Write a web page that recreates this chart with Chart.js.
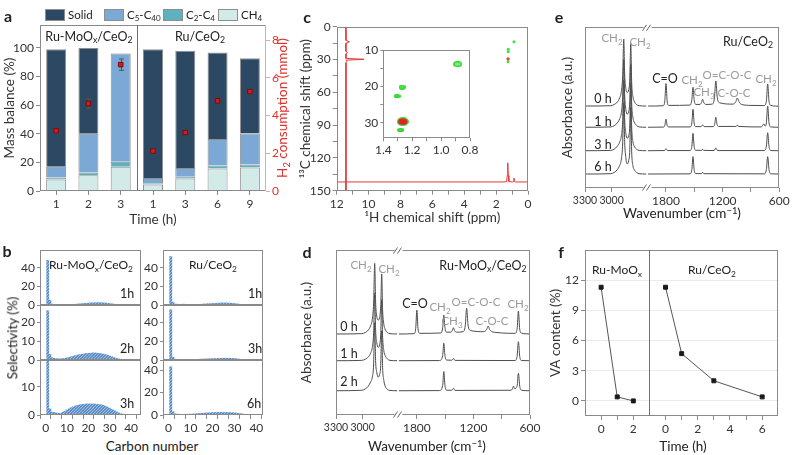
<!DOCTYPE html>
<html>
<head>
<meta charset="utf-8">
<title>Figure</title>
<script src="https://cdn.jsdelivr.net/npm/chart.js@4.4.1/dist/chart.umd.min.js"></script>
<style>
  body { margin: 0; background: #fff; }
  #fig { position: relative; width: 799px; height: 455px; overflow: hidden; background: #fff;
         font-family: Lato, "DejaVu Sans", sans-serif; color: #222; }
  #fig canvas { position: absolute; }
  .t { position: absolute; white-space: nowrap; transform: translate(-50%, -50%); font-size: 12.5px; line-height: 1; }
  .t sub, .lg sub { font-size: 0.7em; vertical-align: -0.3em; line-height: 0; }
  .t sup { font-size: 0.7em; vertical-align: 0.5em; line-height: 0; }
  .panel { font-weight: bold; font-size: 16px; }
  .rot { transform: translate(-50%, -50%) rotate(-90deg); }
  .grey { color: #9b9b9b; }
  .ttl { font-size: 13.5px; }
  .lg { position: absolute; top: 8px; height: 13px; display: flex; align-items: center; font-size: 11.5px; white-space: nowrap; }
  .lg i { display: inline-block; width: 18px; height: 10px; border: 1px solid #8e8e8e; margin-right: 3px; }
</style>
</head>
<body>
<div id="fig"></div>
<script>
// ---------- data ----------
// a: mass balance (%) and H2 consumption (mmol)
const timeLabels = ['1', '2', '3', '1', '3', '6', '9'];
const massCH4 = [8, 11, 17, 4.5, 8.8, 15.8, 16.5];
const massC2C4 = [1.5, 2, 3.5, 1, 1.2, 2, 2];
const massC5C40 = [7.5, 27, 75.5, 3.5, 6, 18.5, 21.7];
const massSolid = [82, 60, 0.3, 90, 82, 60.5, 52.5];
const h2Use = [3.19, 4.64, 6.70, 2.12, 3.10, 4.78, 5.27];
const h2Err = [0.1, 0.25, 0.3, 0.08, 0.08, 0.08, 0.08];
const massTicks = [0, 20, 40, 60, 80, 100];
const h2Ticks = [0, 2, 4, 6, 8];

// b: selectivity (%) by carbon number
const carbonNo = [1, 2, 3, 4, 5, 6, 7, 8, 9, 10, 11, 12, 13, 14, 15, 16, 17, 18, 19, 20,
  21, 22, 23, 24, 25, 26, 27, 28, 29, 30, 31, 32, 33, 34, 35, 36, 37, 38, 39, 40];
const carbonTicks = [0, 5, 10, 15, 20, 25, 30, 35, 40];
const selMo1h = [48, 5, 1.0, 0.6, 0.4, 0.4, 0.3, 0.3, 0.4, 0.4, 0.5, 0.6, 0.7, 0.8, 1.0, 1.2, 1.4, 1.6, 1.8, 2.0,
  2.2, 2.3, 2.4, 2.5, 2.5, 2.4, 2.3, 2.1, 1.8, 1.5, 1.2, 0.9, 0.6, 0.4, 0.3, 0.2, 0.1, 0.1, 0, 0];
const selMo2h = [26, 3.0, 1.2, 0.9, 0.7, 0.6, 0.6, 0.7, 0.9, 1.1, 1.4, 1.7, 2.0, 2.3, 2.6, 2.8, 3.0, 3.2, 3.4, 3.5,
  3.6, 3.7, 3.7, 3.6, 3.5, 3.3, 3.1, 2.8, 2.5, 2.1, 1.7, 1.3, 0.9, 0.6, 0.4, 0.2, 0.1, 0, 0, 0];
const selMo3h = [19.3, 2.2, 1.0, 0.9, 0.7, 0.6, 0.6, 0.9, 1.3, 1.8, 2.2, 2.6, 2.9, 3.2, 3.4, 3.6, 3.7, 3.8, 3.9, 3.9,
  3.9, 3.9, 3.9, 3.8, 3.7, 3.6, 3.4, 3.1, 2.8, 2.4, 2.0, 1.6, 1.2, 0.8, 0.5, 0.3, 0.15, 0.05, 0, 0];
const selRu1h = [52, 3, 1.0, 0.8, 0.7, 0.8, 0.9, 0.7, 0.5, 0.4, 0.4, 0.5, 0.6, 0.7, 0.8, 1.0, 1.1, 1.3, 1.4, 1.6,
  1.7, 1.9, 2.0, 2.1, 2.2, 2.2, 2.1, 2.0, 1.8, 1.5, 1.2, 0.9, 0.6, 0.4, 0.2, 0.1, 0, 0, 0, 0];
const selRu3h = [53, 3, 0.9, 0.7, 0.6, 0.6, 0.6, 0.5, 0.5, 0.5, 0.5, 0.6, 0.7, 0.8, 0.9, 1.0, 1.1, 1.2, 1.3, 1.4,
  1.5, 1.6, 1.7, 1.8, 1.9, 1.9, 1.9, 1.8, 1.7, 1.5, 1.3, 1.0, 0.7, 0.5, 0.3, 0.2, 0.1, 0, 0, 0];
const selRu6h = [43, 3, 1.0, 0.8, 0.6, 0.5, 0.5, 0.6, 0.7, 0.8, 0.9, 1.0, 1.2, 1.3, 1.5, 1.6, 1.8, 1.9, 2.0, 2.1,
  2.2, 2.2, 2.3, 2.3, 2.3, 2.3, 2.2, 2.2, 2.1, 1.9, 1.7, 1.4, 1.1, 0.8, 0.5, 0.3, 0.2, 0.1, 0, 0];

// c: 1H / 13C projections and HSQC cross peaks (ppm)
const hSpecX = [12, 1.5, 1.34, 1.3, 1.27, 1.24, 1.2, 0.95, 0.91, 0.88, 0.85, 0.8, 0];
const hSpecY = [142, 142, 141.6, 136, 124.5, 136, 141.6, 142, 141.5, 138.5, 141.5, 142, 142];
const cSpecX = [11.42, 11.42, 11.2, 11.42, 11.42, 11.32, 11.42, 11.42, 10.28, 11.42, 11.36, 11.42, 11.42];
const cSpecY = [0, 12.5, 13.8, 15.2, 22.5, 23.6, 24.8, 29.0, 29.8, 30.6, 32, 33, 150];
const hsqcGreenH = [0.88, 1.24, 1.24, 1.25];
const hsqcGreenC = [13.7, 20.6, 22.8, 32.0];
const hsqcRedH = [1.25];
const hsqcRedC = [29.5];
const insetGreenH = [0.886, 1.27, 1.305, 1.28];
const insetGreenC = [13.9, 20.2, 22.7, 32.0];
const insetRedH = [1.265];
const insetRedC = [29.7];

// d: FTIR Ru-MoOx/CeO2, [wavenumber, absorbance]
const irMo0hL = [[3300, 4.91], [3010, 4.93], [2970, 5.0], [2935, 5.15], [2910, 5.4], [2890, 5.8], [2875, 6.8], [2863, 9.19], [2853, 6.9], [2840, 6.0],
  [2825, 5.75], [2808, 5.9], [2795, 6.6], [2784, 8.55], [2774, 6.4], [2760, 5.5], [2745, 5.2], [2720, 5.0], [2690, 4.93], [2610, 4.91]];
const irMo0hR = [[1990, 4.91], [1830, 4.93], [1812, 5.25], [1800, 6.36], [1788, 5.25], [1770, 4.95], [1545, 4.97], [1526, 5.3], [1514, 6.06], [1502, 5.3],
  [1485, 5.02], [1440, 5.02], [1424, 5.12], [1412, 5.29], [1400, 5.12], [1380, 5.02], [1310, 5.05], [1287, 5.4], [1272, 6.47], [1257, 5.45],
  [1230, 5.12], [1090, 5.05], [1060, 5.18], [1044, 5.39], [1028, 5.18], [1000, 5.04], [950, 5.0], [900, 4.97], [760, 4.95], [737, 5.2],
  [723, 6.3], [709, 5.2], [690, 4.96], [640, 4.92], [600, 4.91]];
const irMo1hL = [[3300, 3.29], [3010, 3.31], [2970, 3.38], [2935, 3.52], [2910, 3.75], [2890, 4.1], [2875, 5.0], [2863, 7.4], [2853, 5.2], [2840, 4.4],
  [2825, 4.1], [2808, 4.25], [2795, 4.9], [2784, 7.0], [2774, 4.8], [2760, 3.9], [2745, 3.6], [2720, 3.4], [2690, 3.31], [2610, 3.29]];
const irMo1hR = [[1990, 3.29], [1560, 3.3], [1526, 3.6], [1514, 4.35], [1502, 3.6], [1485, 3.33], [1430, 3.32], [1412, 3.42], [1395, 3.31],
  [760, 3.3], [737, 3.55], [723, 4.44], [709, 3.55], [690, 3.3], [600, 3.29]];
const irMo2hL = [[3300, 1.47], [3010, 1.5], [2970, 1.58], [2935, 1.75], [2910, 2.0], [2890, 2.3], [2875, 3.1], [2863, 5.6], [2853, 3.3], [2840, 2.6],
  [2825, 2.3], [2808, 2.45], [2795, 3.0], [2784, 5.1], [2774, 2.9], [2760, 2.1], [2745, 1.75], [2720, 1.55], [2690, 1.49], [2610, 1.47]];
const irMo2hR = [[1990, 1.47], [1560, 1.48], [1526, 1.8], [1514, 2.63], [1502, 1.8], [1485, 1.5], [1430, 1.5], [1412, 1.62], [1395, 1.49],
  [800, 1.5], [785, 1.6], [775, 1.75], [765, 1.6], [737, 1.75], [723, 2.53], [709, 1.75], [690, 1.5], [600, 1.47]];

// e: FTIR Ru/CeO2
const irRu0hL = [[3300, 5.1], [3010, 5.12], [2970, 5.2], [2935, 5.35], [2910, 5.6], [2890, 6.0], [2875, 7.0], [2863, 9.27], [2853, 7.1], [2840, 6.2],
  [2825, 5.95], [2808, 6.1], [2795, 6.8], [2784, 9.0], [2774, 6.6], [2760, 5.7], [2745, 5.4], [2720, 5.2], [2690, 5.12], [2610, 5.1]];
const irRu0hR = [[1990, 5.1], [1830, 5.12], [1812, 5.45], [1800, 6.5], [1788, 5.45], [1770, 5.14], [1545, 5.16], [1526, 5.5], [1514, 6.27], [1502, 5.5],
  [1485, 5.2], [1440, 5.2], [1424, 5.32], [1412, 5.52], [1400, 5.32], [1380, 5.2], [1310, 5.22], [1287, 5.6], [1272, 6.66], [1257, 5.62],
  [1230, 5.3], [1090, 5.22], [1060, 5.38], [1044, 5.6], [1028, 5.38], [1000, 5.2], [900, 5.14], [760, 5.13], [737, 5.4], [723, 6.47],
  [709, 5.4], [690, 5.14], [640, 5.1], [600, 5.08]];
const irRu1hL = [[3300, 3.78], [3010, 3.8], [2970, 3.88], [2935, 4.05], [2910, 4.3], [2890, 4.7], [2875, 5.7], [2863, 8.0], [2853, 5.8], [2840, 4.9],
  [2825, 4.6], [2808, 4.75], [2795, 5.4], [2784, 7.7], [2774, 5.3], [2760, 4.4], [2745, 4.1], [2720, 3.9], [2690, 3.8], [2610, 3.78]];
const irRu1hR = [[1990, 3.78], [1830, 3.79], [1812, 3.9], [1800, 4.29], [1788, 3.9], [1770, 3.8], [1545, 3.8], [1526, 4.05], [1514, 4.9], [1502, 4.05],
  [1485, 3.82], [1430, 3.82], [1412, 3.92], [1395, 3.82], [1300, 3.82], [1285, 3.95], [1272, 4.4], [1259, 3.95], [1240, 3.83], [1060, 3.83],
  [1044, 3.9], [1028, 3.83], [790, 3.8], [775, 3.9], [765, 3.99], [750, 3.85], [737, 4.05], [723, 5.1], [709, 4.05], [690, 3.8], [600, 3.78]];
const irRu3hL = [[3300, 2.32], [3010, 2.34], [2970, 2.42], [2935, 2.6], [2910, 2.85], [2890, 3.25], [2875, 4.2], [2863, 6.7], [2853, 4.3], [2840, 3.4],
  [2825, 3.1], [2808, 3.25], [2795, 3.9], [2784, 6.5], [2774, 3.8], [2760, 2.9], [2745, 2.6], [2720, 2.42], [2690, 2.34], [2610, 2.32]];
const irRu3hR = [[1990, 2.32], [1815, 2.33], [1800, 2.45], [1785, 2.33], [1545, 2.33], [1526, 2.6], [1514, 3.4], [1502, 2.6], [1485, 2.35],
  [1425, 2.34], [1412, 2.4], [1399, 2.34], [1290, 2.33], [1272, 2.49], [1254, 2.33], [760, 2.33], [737, 2.6], [723, 3.44], [709, 2.6],
  [690, 2.33], [600, 2.32]];
const irRu6hL = [[3300, 0.87], [3010, 0.89], [2970, 0.97], [2935, 1.15], [2910, 1.4], [2890, 1.8], [2875, 2.8], [2863, 5.3], [2853, 2.9], [2840, 1.9],
  [2825, 1.5], [2808, 1.7], [2795, 2.4], [2784, 5.0], [2774, 2.3], [2760, 1.4], [2745, 1.15], [2720, 0.97], [2690, 0.89], [2610, 0.87]];
const irRu6hR = [[1990, 0.87], [1545, 0.88], [1526, 1.15], [1514, 1.95], [1502, 1.15], [1485, 0.9], [1425, 0.89], [1412, 0.98], [1399, 0.89],
  [760, 0.88], [737, 1.15], [723, 1.95], [709, 1.15], [690, 0.88], [600, 0.87]];
const wnTicksL = [3300, 3000];
const wnTicksR = [1800, 1500, 1200, 900, 600];

// f: VA content (%)
const vaMoTime = [0, 1, 2];
const vaMo = [11.3, 0.4, 0];
const vaRuTime = [0, 1, 3, 6];
const vaRu = [11.3, 4.7, 2.0, 0.4];
const vaTicks = [0, 3, 6, 9, 12];

// ---------- setup ----------
const AXIS = '#8a8a8a';
const SPEC = '#4d4d4d';
Chart.defaults.font.family = 'Lato, "DejaVu Sans", sans-serif';
Chart.defaults.font.size = 12;
Chart.defaults.color = '#333';
Chart.defaults.animation = false;
Chart.defaults.responsive = false;
Chart.defaults.maintainAspectRatio = false;
Chart.defaults.devicePixelRatio = 1;
Chart.defaults.events = [];
Chart.defaults.plugins.legend.display = false;
Chart.defaults.plugins.tooltip.enabled = false;
if (Chart.defaults.plugins.colors) Chart.defaults.plugins.colors.enabled = false;

const fig = document.getElementById('fig');

function canvasAt(x, y, w, h) {
  const c = document.createElement('canvas');
  c.width = w; c.height = h;
  c.style.left = x + 'px'; c.style.top = y + 'px';
  c.style.width = w + 'px'; c.style.height = h + 'px';
  fig.appendChild(c);
  return c;
}

function put(html, x, y, cls, css) {
  const d = document.createElement('div');
  d.className = 't ' + (cls || '');
  d.innerHTML = html;
  d.style.left = x + 'px';
  d.style.top = y + 'px';
  if (css) d.style.cssText += css;
  fig.appendChild(d);
  return d;
}

const noPad = s => { s.paddingTop = 0; s.paddingBottom = 0; s.paddingLeft = 0; s.paddingRight = 0; };
const fitW = w => s => { s.width = w; noPad(s); };
const fitH = h => s => { s.height = h; noPad(s); };
const setTicks = vals => s => { s.ticks = vals.map(v => ({ value: v })); };
const every = step => v => (Math.abs(v % step) < 1e-9 ? String(v) : '');
const plain = v => String(v);
const tk = extra => Object.assign({ padding: 2, maxRotation: 0, minRotation: 0, autoSkip: false }, extra || {});
const tickGrid = { drawOnChartArea: false, color: AXIS, tickLength: 4 };
const titleFont = { size: 13.5 };
const pts = (xs, ys) => xs.map((x, i) => ({ x: x, y: ys[i] }));
const pairs = arr => arr.map(p => ({ x: p[0], y: p[1] }));

// box round the plot area (or round each stacked row)
const frame = {
  id: 'frame',
  afterDatasetsDraw(chart, args, o) {
    const { ctx, chartArea: a } = chart;
    const L = Math.round(a.left) + 0.5, R = Math.round(a.right) - 0.5;
    const rows = o.rows ? o.rows.map(id => chart.scales[id]) : [a];
    ctx.save();
    ctx.lineWidth = 1;
    ctx.strokeStyle = AXIS;
    rows.forEach(r => {
      const T = Math.round(r.top) + 0.5, B = Math.round(r.bottom) - 0.5;
      ctx.strokeRect(L, T, R - L, B - T);
    });
    if (o.split) {
      const x = Math.round(chart.scales[o.split].right) + 0.5;
      ctx.strokeStyle = '#707070';
      ctx.beginPath(); ctx.moveTo(x, a.top); ctx.lineTo(x, a.bottom); ctx.stroke();
    }
    if (o.right) {
      ctx.strokeStyle = o.right;
      ctx.beginPath(); ctx.moveTo(R, a.top); ctx.lineTo(R, a.bottom); ctx.stroke();
    }
    ctx.restore();
  }
};

// "//" axis break between the two wavenumber ranges
const breakMark = {
  id: 'breakMark',
  afterDraw(chart) {
    const { ctx, chartArea: a } = chart;
    const x = Math.round(chart.scales.xl.right) + 0.5;
    ctx.save();
    [a.top + 0.5, a.bottom - 0.5].forEach(y => {
      ctx.fillStyle = '#fff';
      ctx.fillRect(x - 4, y - 2, 8, 4);
      ctx.strokeStyle = '#666';
      ctx.lineWidth = 1;
      ctx.beginPath();
      ctx.moveTo(x - 5, y + 3); ctx.lineTo(x - 1, y - 3);
      ctx.moveTo(x - 1, y + 3); ctx.lineTo(x + 3, y - 3);
      ctx.stroke();
    });
    ctx.restore();
  }
};

// ---------- a ----------
const groupSplit = {
  id: 'groupSplit',
  afterDatasetsDraw(chart) {
    const x = chart.scales.x, a = chart.chartArea, ctx = chart.ctx;
    const px = Math.round((x.getPixelForValue(2) + x.getPixelForValue(3)) / 2) + 0.5;
    ctx.save();
    ctx.strokeStyle = '#6f6f6f';
    ctx.lineWidth = 1;
    ctx.beginPath(); ctx.moveTo(px, a.top); ctx.lineTo(px, a.bottom); ctx.stroke();
    ctx.restore();
  }
};

const errBars = {
  id: 'errBars',
  beforeDatasetDraw(chart, args) {
    if (args.index !== 4) return;
    const meta = chart.getDatasetMeta(4), s = chart.scales.y2, ctx = chart.ctx;
    ctx.save();
    ctx.strokeStyle = '#555';
    ctx.lineWidth = 1;
    meta.data.forEach((pt, i) => {
      const x = Math.round(pt.x) + 0.5;
      const top = s.getPixelForValue(h2Use[i] + h2Err[i]);
      const bot = s.getPixelForValue(h2Use[i] - h2Err[i]);
      ctx.beginPath();
      ctx.moveTo(x, top); ctx.lineTo(x, bot);
      ctx.moveTo(x - 2.5, top); ctx.lineTo(x + 2.5, top);
      ctx.moveTo(x - 2.5, bot); ctx.lineTo(x + 2.5, bot);
      ctx.stroke();
    });
    ctx.restore();
  }
};

const chartA = new Chart(canvasAt(0, 0, 292, 232), {
  type: 'bar',
  data: {
    labels: timeLabels,
    datasets: [
      { label: 'CH4', data: massCH4, backgroundColor: '#d2ebe9', borderColor: '#8e8e8e' },
      { label: 'C2-C4', data: massC2C4, backgroundColor: '#5fb1bd', borderColor: '#8e8e8e' },
      { label: 'C5-C40', data: massC5C40, backgroundColor: '#7ca8d6', borderColor: '#8e8e8e' },
      { label: 'Solid', data: massSolid, backgroundColor: '#2d4862', borderColor: '#8e8e8e' },
      { type: 'line', label: 'H2 consumption', data: h2Use, yAxisID: 'y2', showLine: false,
        pointStyle: 'rect', pointRadius: 3.2, pointBackgroundColor: '#d7191c', pointBorderColor: '#7a0c0c',
        pointBorderWidth: 1, order: -1 }
    ]
  },
  options: {
    layout: { padding: { top: 25, left: 0, right: 0, bottom: 0 } },
    datasets: { bar: { borderWidth: 1, barPercentage: 0.62, categoryPercentage: 1 } },
    scales: {
      x: {
        stacked: true,
        grid: { ...tickGrid, offset: false },
        border: { display: false },
        ticks: tk(),
        title: { display: true, text: 'Time (h)', font: titleFont, padding: { top: 0, bottom: 4 } },
        afterFit: fitH(41)
      },
      y: {
        type: 'linear', stacked: true, min: 0, max: 116,
        afterBuildTicks: setTicks(massTicks),
        grid: tickGrid,
        border: { display: false },
        ticks: tk(),
        title: { display: true, text: 'Mass balance (%)', font: titleFont, padding: { top: 2, bottom: 0 } },
        afterFit: fitW(40)
      },
      y2: {
        type: 'linear', position: 'right', min: 0, max: 8.8,
        afterBuildTicks: setTicks(h2Ticks),
        grid: { drawOnChartArea: false, color: '#f2a3a3', tickLength: 4 },
        border: { display: false },
        ticks: tk({ color: '#e0302b' }),
        afterFit: fitW(26)
      }
    },
    plugins: { frame: { right: '#f2a3a3' } }
  },
  plugins: [frame, groupSplit, errBars]
});

// ---------- b ----------
function hatch() {
  const p = document.createElement('canvas');
  p.width = 3; p.height = 3;
  const g = p.getContext('2d');
  g.fillStyle = '#5e8fc6'; g.fillRect(0, 0, 3, 3);
  g.fillStyle = '#9dbde2';
  g.fillRect(0, 2, 1, 1); g.fillRect(1, 1, 1, 1); g.fillRect(2, 0, 1, 1);
  return g.createPattern(p, 'repeat');
}
const barFill = hatch();

// rows listed top to bottom; left stacks are laid out from the last scale added
function selChart(left, yw, width, xMax, plotW, rows) {
  const scales = {
    x: {
      type: 'linear', min: 0, max: xMax,
      afterBuildTicks: setTicks(carbonTicks),
      ticks: tk({ callback: every(10) }),
      grid: tickGrid,
      border: { display: false },
      afterFit: fitH(20)
    }
  };
  const datasets = [];
  for (let i = rows.length - 1; i >= 0; i--) {
    const r = rows[i];
    scales['r' + i] = {
      type: 'linear', position: 'left', stack: 'sel', stackWeight: 1,
      min: 0, max: r.max,
      afterBuildTicks: setTicks(r.ticks),
      grid: { drawOnChartArea: false, color: AXIS, tickLength: 3 },
      border: { display: false },
      ticks: tk(),
      afterFit: fitW(yw)
    };
    datasets.push({ data: pts(carbonNo, r.data), yAxisID: 'r' + i, backgroundColor: barFill, borderWidth: 0 });
  }
  return new Chart(canvasAt(left, 240, width, 195), {
    type: 'bar',
    data: { datasets: datasets },
    options: {
      layout: { padding: { top: 10, right: width - yw - plotW, left: 0, bottom: 0 } },
      datasets: { bar: { grouped: false, barPercentage: 1, categoryPercentage: 1 } },
      scales: scales,
      plugins: { frame: { rows: rows.map((r, i) => 'r' + i) } }
    },
    plugins: [frame]
  });
}

selChart(0, 40, 150, 42, 101, [
  { data: selMo1h, max: 59, ticks: [0, 20, 40] },
  { data: selMo2h, max: 29, ticks: [0, 10, 20] },
  { data: selMo3h, max: 19.5, ticks: [0, 10] }
]);
selChart(125, 38, 150, 40.5, 100, [
  { data: selRu1h, max: 59, ticks: [0, 20, 40] },
  { data: selRu3h, max: 58, ticks: [0, 20, 40] },
  { data: selRu6h, max: 49, ticks: [0, 20, 40] }
]);

// ---------- c ----------
function spot(w, h, fill, edge) {
  const c = document.createElement('canvas');
  c.width = w; c.height = h;
  const g = c.getContext('2d');
  g.fillStyle = edge;
  g.beginPath(); g.ellipse(w / 2, h / 2, w / 2, h / 2, 0, 0, 2 * Math.PI); g.fill();
  g.fillStyle = fill;
  g.beginPath(); g.ellipse(w / 2, h / 2, w / 2 - 1.3, h / 2 - 1.3, 0, 0, 2 * Math.PI); g.fill();
  return c;
}

new Chart(canvasAt(294, 0, 245, 228), {
  type: 'scatter',
  data: {
    datasets: [
      { data: pts(hSpecX, hSpecY), showLine: true, borderColor: '#e03a3a', borderWidth: 1, pointRadius: 0 },
      { data: pts(cSpecX, cSpecY), showLine: true, borderColor: '#e03a3a', borderWidth: 1, pointRadius: 0 },
      { data: pts(hsqcGreenH, hsqcGreenC), pointRadius: 1.5, pointBackgroundColor: '#3ee03e', pointBorderWidth: 0 },
      { data: pts(hsqcRedH, hsqcRedC), pointRadius: 1.7, pointBackgroundColor: '#e8432a', pointBorderWidth: 0 }
    ]
  },
  options: {
    layout: { padding: { top: 26.7, right: 11, left: 0, bottom: 0 } },
    scales: {
      x: {
        type: 'linear', reverse: true, min: 0, max: 12,
        afterBuildTicks: setTicks([0, 1, 2, 3, 4, 5, 6, 7, 8, 9, 10, 11, 12]),
        ticks: tk({ callback: every(2) }),
        grid: tickGrid, border: { display: false },
        title: { display: true, text: '¹H chemical shift (ppm)', font: titleFont, padding: { top: 0, bottom: 2 } },
        afterFit: fitH(37.3)
      },
      y: {
        type: 'linear', reverse: true, min: 0, max: 150,
        afterBuildTicks: setTicks([0, 15, 30, 45, 60, 75, 90, 105, 120, 135, 150]),
        ticks: tk({ callback: every(30) }),
        grid: tickGrid, border: { display: false },
        title: { display: true, text: '¹³C chemical shift (ppm)', font: titleFont, padding: { top: 4, bottom: 0 } },
        afterFit: fitW(42.7)
      }
    }
  },
  plugins: [frame]
});

// inset of c
new Chart(canvasAt(352, 40, 128, 118), {
  type: 'scatter',
  data: {
    datasets: [
      { data: pts(insetRedH, insetRedC), pointRadius: 5, pointStyle: [spot(12, 9, '#e3231f', '#3ad83a')] },
      { data: pts(insetGreenH, insetGreenC), pointRadius: 4,
        pointStyle: [spot(9, 6, '#7cf07c', '#1fd11f'), spot(7, 5, '#52ec52', '#1fd11f'),
                     spot(7, 4, '#52ec52', '#1fd11f'), spot(7, 4, '#52ec52', '#1fd11f')] }
    ]
  },
  options: {
    layout: { padding: { top: 10, right: 10, left: 0, bottom: 0 } },
    scales: {
      x: {
        type: 'linear', reverse: true, min: 0.8, max: 1.4,
        afterBuildTicks: setTicks([0.8, 0.9, 1.0, 1.1, 1.2, 1.3, 1.4]),
        ticks: tk({ callback: v => (Math.round(v * 10) % 2 === 0 ? v.toFixed(1) : '') }),
        grid: { drawOnChartArea: false, color: AXIS, tickLength: 3 }, border: { display: false },
        afterFit: fitH(19.7)
      },
      y: {
        type: 'linear', reverse: true, min: 10, max: 34.3,
        afterBuildTicks: setTicks([10, 15, 20, 25, 30]),
        ticks: tk({ callback: every(10) }),
        grid: { drawOnChartArea: false, color: AXIS, tickLength: 3 }, border: { display: false },
        afterFit: fitW(31.3)
      }
    }
  },
  plugins: [frame]
});

// ---------- d, e ----------
function irChart(x0, y0, w, h, yw, pad, xh, specs) {
  const datasets = [];
  specs.forEach(s => {
    datasets.push({ data: pairs(s[0]), xAxisID: 'xl', borderColor: SPEC });
    datasets.push({ data: pairs(s[1]), xAxisID: 'xr', borderColor: SPEC });
  });
  return new Chart(canvasAt(x0, y0, w, h), {
    type: 'scatter',
    data: { datasets: datasets },
    options: {
      layout: { padding: pad },
      datasets: { scatter: { showLine: true, borderWidth: 1, pointRadius: 0, cubicInterpolationMode: 'monotone' } },
      scales: {
        xl: {
          type: 'linear', position: 'bottom', stack: 'wn', stackWeight: 62, reverse: true, min: 2600, max: 3300,
          afterBuildTicks: setTicks(wnTicksL),
          ticks: tk({ callback: plain, font: { size: 10.5 } }), grid: tickGrid, border: { display: false },
          afterFit: fitH(xh)
        },
        xr: {
          type: 'linear', position: 'bottom', stack: 'wn', stackWeight: 132, reverse: true, min: 600, max: 2000,
          afterBuildTicks: setTicks(wnTicksR),
          ticks: tk({ callback: every(600) }), grid: tickGrid, border: { display: false },
          afterFit: fitH(xh)
        },
        y: {
          type: 'linear', min: 0, max: 10,
          ticks: { display: false }, grid: { display: false }, border: { display: false },
          title: { display: true, text: 'Absorbance (a.u.)', font: titleFont, padding: { top: yw > 35 ? 3 : 5, bottom: 0 } },
          afterFit: fitW(yw)
        }
      }
    },
    plugins: [frame, breakMark]
  });
}

irChart(296, 240, 245, 198, 40, { top: 10, right: 11, left: 0, bottom: 0 }, 23,
  [[irMo0hL, irMo0hR], [irMo1hL, irMo1hR], [irMo2hL, irMo2hR]]);
irChart(555, 17, 240, 191, 30, { top: 10.3, right: 15.7, left: 0, bottom: 0 }, 20,
  [[irRu0hL, irRu0hR], [irRu1hL, irRu1hR], [irRu3hL, irRu3hR], [irRu6hL, irRu6hR]]);

// ---------- f ----------
new Chart(canvasAt(545, 240, 245, 198), {
  type: 'scatter',
  data: {
    datasets: [
      { data: pts(vaMoTime, vaMo), xAxisID: 'xl', borderColor: '#555', pointBackgroundColor: '#1a1a1a', pointBorderColor: '#1a1a1a' },
      { data: pts(vaRuTime, vaRu), xAxisID: 'xr', borderColor: '#555', pointBackgroundColor: '#1a1a1a', pointBorderColor: '#1a1a1a' }
    ]
  },
  options: {
    layout: { padding: { top: 10, right: 11.7, left: 0, bottom: 0 } },
    datasets: { scatter: { showLine: true, borderWidth: 1, pointStyle: 'rect', pointRadius: 2.8 } },
    scales: {
      xl: {
        type: 'linear', position: 'bottom', stack: 't', stackWeight: 4, min: -1, max: 3,
        afterBuildTicks: setTicks([0, 1, 2]),
        ticks: tk({ callback: every(2) }), grid: tickGrid, border: { display: false },
        afterFit: fitH(22)
      },
      xr: {
        type: 'linear', position: 'bottom', stack: 't', stackWeight: 8, min: -1, max: 7,
        afterBuildTicks: setTicks([0, 1, 2, 3, 4, 5, 6]),
        ticks: tk({ callback: every(2) }), grid: tickGrid, border: { display: false },
        afterFit: fitH(22)
      },
      y: {
        type: 'linear', min: -1.5, max: 15,
        afterBuildTicks: setTicks(vaTicks),
        ticks: tk(),
        grid: { color: '#ebebeb', tickColor: AXIS, tickLength: 4 }, border: { display: false },
        title: { display: true, text: 'VA content (%)', font: titleFont, padding: { top: 3, bottom: 0 } },
        afterFit: fitW(40)
      }
    },
    plugins: { frame: { split: 'xl' } }
  },
  plugins: [frame]
});

// ---------- text ----------
// legend of a, built from the bar datasets (top of stack first)
const legendX = [45, 104, 163, 218];
const legendHtml = { 'Solid': 'Solid', 'C5-C40': 'C<sub>5</sub>-C<sub>40</sub>', 'C2-C4': 'C<sub>2</sub>-C<sub>4</sub>', 'CH4': 'CH<sub>4</sub>' };
chartA.data.datasets.slice(0, 4).reverse().forEach((ds, i) => {
  const d = document.createElement('div');
  d.className = 'lg';
  d.style.left = legendX[i] + 'px';
  d.innerHTML = '<i style="background:' + ds.backgroundColor + '"></i><span>' + legendHtml[ds.label] + '</span>';
  fig.appendChild(d);
});

put('a', 8, 16, 'panel');
put('b', 7, 251, 'panel');
put('c', 307, 17, 'panel');
put('d', 307, 252, 'panel');
put('e', 559, 17, 'panel');
put('f', 561, 252, 'panel');

put('Ru-MoO<sub>x</sub>/CeO<sub>2</sub>', 89, 37, '', 'font-size:12.5px');
put('Ru/CeO<sub>2</sub>', 200, 37, '', 'font-size:12.5px');
put('H<sub>2</sub> consumption (mmol)', 283, 108, 'rot ttl', 'color:#e0302b');

put('Ru-MoO<sub>x</sub>/CeO<sub>2</sub>', 91, 265, '', 'font-size:12px');
put('Ru/CeO<sub>2</sub>', 213, 265, '', 'font-size:12px');
put('1h', 127, 294);
put('2h', 127, 349);
put('3h', 127, 404);
put('1h', 255, 294);
put('3h', 255, 349);
put('6h', 254, 404);
put('Selectivity (%)', 13, 338, 'rot ttl');
put('Carbon number', 152, 447, 'ttl');

// d
put('CH<sub>2</sub>', 361, 265, 'grey', 'font-size:11.5px');
put('CH<sub>2</sub>', 389, 269, 'grey', 'font-size:11.5px');
put('Ru-MoO<sub>x</sub>/CeO<sub>2</sub>', 483, 266, '', 'font-size:12.5px');
put('C=O', 415, 304);
put('CH<sub>2</sub>', 440, 307, 'grey', 'font-size:11.5px');
put('CH<sub>3</sub>', 452, 321, 'grey', 'font-size:11.5px');
put('O=C-O-C', 476, 302, 'grey', 'font-size:11.5px');
put('C-O-C', 492, 321, 'grey', 'font-size:11.5px');
put('CH<sub>2</sub>', 518, 304, 'grey', 'font-size:11.5px');
put('0 h', 349, 327);
put('1 h', 349, 354);
put('2 h', 349, 382);
put('Wavenumber (cm<sup>−1</sup>)', 427, 447, 'ttl');

// e
put('CH<sub>2</sub>', 612, 38, 'grey', 'font-size:11.5px');
put('CH<sub>2</sub>', 640, 42, 'grey', 'font-size:11.5px');
put('Ru/CeO<sub>2</sub>', 748, 42, '', 'font-size:12.5px');
put('C=O', 665, 79);
put('CH<sub>2</sub>', 692, 80, 'grey', 'font-size:11.5px');
put('CH<sub>3</sub>', 704, 92, 'grey', 'font-size:11.5px');
put('O=C-O-C', 727, 75, 'grey', 'font-size:11.5px');
put('C-O-C', 734, 93, 'grey', 'font-size:11.5px');
put('CH<sub>2</sub>', 766, 79, 'grey', 'font-size:11.5px');
put('0 h', 603, 99);
put('1 h', 603, 122);
put('3 h', 603, 145);
put('6 h', 603, 167);
put('Wavenumber (cm<sup>−1</sup>)', 682, 214, 'ttl');

// f
put('Ru-MoO<sub>x</sub>', 617, 270, '', 'font-size:12px');
put('Ru/CeO<sub>2</sub>', 712, 270, '', 'font-size:12px');
put('Time (h)', 683, 447, 'ttl');
</script>
</body>
</html>
